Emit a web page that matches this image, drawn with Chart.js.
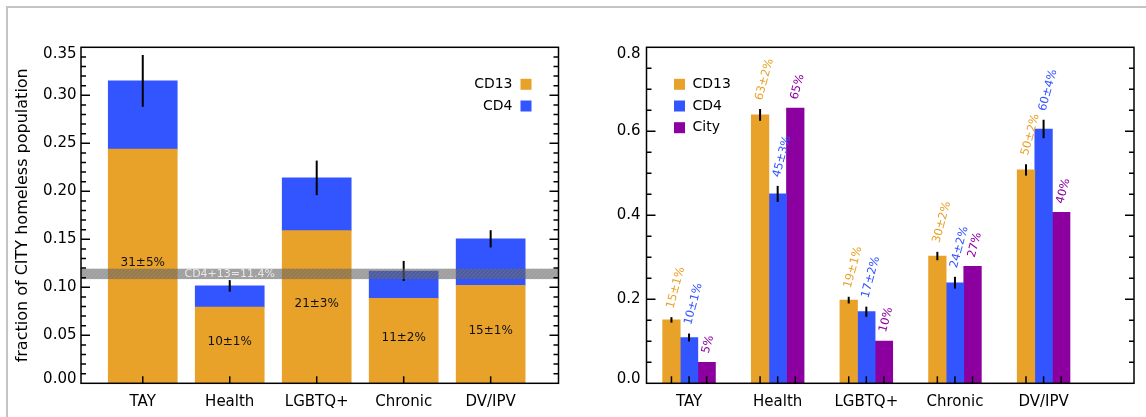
<!DOCTYPE html>
<html>
<head>
<meta charset="utf-8">
<script src="https://cdn.jsdelivr.net/npm/chart.js@4.4.1/dist/chart.umd.min.js"></script>
<style>
  html, body { margin: 0; padding: 0; background: #fff; }
  #wrap { position: relative; width: 1146px; height: 417px; overflow: hidden; }
  #frame { position: absolute; left: 6px; top: 6px; right: -4px; bottom: -4px; border-left: 2px solid #c4c4c4; border-top: 2px solid #c4c4c4; }
  canvas { position: absolute; top: 0; }
  #left { left: 0; }
  #right { left: 573px; }
</style>
</head>
<body>
<div id="wrap">
  <div id="frame"></div>
  <canvas id="left" width="573" height="417"></canvas>
  <canvas id="right" width="573" height="417"></canvas>
</div>
<script>
const categories = ['TAY', 'Health', 'LGBTQ+', 'Chronic', 'DV/IPV']

// left panel: share of the CITY homeless population
const cd13Share = [0.244, 0.0795, 0.159, 0.0885, 0.102]
const cd4Share = [0.071, 0.022, 0.055, 0.0285, 0.0485]
const totalErr = [0.027, 0.006, 0.018, 0.0105, 0.009]
const totalLabels = ['31±5%', '10±1%', '21±3%', '11±2%', '15±1%']
const combinedShare = 0.114
const combinedErr = 0.0057
const combinedLabel = 'CD4+13=11.4%'

// right panel: fraction within each population
const cd13Frac = [0.151, 0.639, 0.198, 0.303, 0.508]
const cd13Err = [0.0065, 0.014, 0.008, 0.01, 0.0135]
const cd13Labels = ['15±1%', '63±2%', '19±1%', '30±2%', '50±2%']
const cd4Frac = [0.109, 0.451, 0.1705, 0.2395, 0.6055]
const cd4Err = [0.0095, 0.019, 0.012, 0.014, 0.022]
const cd4Labels = ['10±1%', '45±3%', '17±2%', '24±2%', '60±4%']
const cityFrac = [0.05, 0.655, 0.1005, 0.2785, 0.407]
const cityLabels = ['5%', '65%', '10%', '27%', '40%']

const ORANGE = 'rgb(232, 162, 42)'
const BLUE = 'rgb(51, 85, 255)'
const PURPLE = 'rgb(140, 0, 160)'
const FONT = '"DejaVu Sans", sans-serif'

const points = arr => arr.map((v, i) => ({ x: i, y: v }))

// end labels of the y axis sit inside the frame, like the original plot
const tuckEndLabels = {
  id: 'tuckEndLabels',
  beforeDraw (chart) {
    const items = chart.scales.y.getLabelItems()
    if (!items.length || items.tucked) return
    items[0].options.translation[1] -= 4.5
    items[items.length - 1].options.translation[1] += 7
    items.tucked = true
  }
}

function drawFrame (chart, minorStep, majorStep, tickXs) {
  const { ctx, chartArea: a, scales: { y } } = chart
  ctx.save()
  ctx.strokeStyle = '#000'
  ctx.lineWidth = 1.5
  ctx.strokeRect(a.left, a.top, a.right - a.left, a.bottom - a.top)
  const n = Math.round((y.max - y.min) / minorStep)
  const every = Math.round(majorStep / minorStep)
  for (let k = 1; k < n; k++) {
    const py = y.getPixelForValue(y.min + k * minorStep)
    const len = k % every === 0 ? 9 : 5
    ctx.beginPath()
    ctx.moveTo(a.left, py); ctx.lineTo(a.left + len, py)
    ctx.moveTo(a.right, py); ctx.lineTo(a.right - len, py)
    ctx.stroke()
  }
  tickXs.forEach(px => {
    ctx.beginPath()
    ctx.moveTo(px, a.bottom); ctx.lineTo(px, a.bottom - 7)
    ctx.stroke()
  })
  ctx.restore()
}

function errorBar (ctx, yScale, px, value, err) {
  ctx.beginPath()
  ctx.moveTo(px, yScale.getPixelForValue(value - err))
  ctx.lineTo(px, yScale.getPixelForValue(value + err))
  ctx.stroke()
}

const leftDecor = {
  id: 'leftDecor',
  afterDatasetsDraw (chart) {
    const { ctx, chartArea: a, scales: { x, y } } = chart
    const bars = chart.getDatasetMeta(0).data

    ctx.save()
    ctx.strokeStyle = '#000'
    ctx.lineWidth = 2
    bars.forEach((b, i) => errorBar(ctx, y, b.x, cd13Share[i] + cd4Share[i], totalErr[i]))

    ctx.fillStyle = '#111'
    ctx.font = '12px ' + FONT
    ctx.textAlign = 'center'
    ctx.textBaseline = 'alphabetic'
    bars.forEach((b, i) => ctx.fillText(totalLabels[i], b.x, y.getPixelForValue(cd13Share[i] / 2)))

    // combined CD4+CD13 band
    const y1 = y.getPixelForValue(combinedShare + combinedErr)
    const y2 = y.getPixelForValue(combinedShare - combinedErr)
    ctx.beginPath()
    ctx.rect(a.left, y1, a.right - a.left, y2 - y1)
    ctx.clip()
    ctx.fillStyle = 'rgba(95, 95, 95, 0.6)'
    ctx.fillRect(a.left, y1, a.right - a.left, y2 - y1)
    ctx.strokeStyle = 'rgba(255, 255, 255, 0.12)'
    ctx.lineWidth = 1
    for (let sx = a.left - 20; sx < a.right + 20; sx += 4) {
      ctx.beginPath()
      ctx.moveTo(sx, y2); ctx.lineTo(sx + (y2 - y1), y1)
      ctx.stroke()
    }
    ctx.fillStyle = 'rgba(235, 235, 235, 0.95)'
    ctx.font = '11px ' + FONT
    ctx.textBaseline = 'middle'
    ctx.fillText(combinedLabel, x.getPixelForValue(1), (y1 + y2) / 2)
    ctx.restore()

    // legend, text left of the box
    ctx.save()
    ctx.font = '14px ' + FONT
    ctx.textAlign = 'right'
    ctx.textBaseline = 'middle'
    chart.data.datasets.forEach((ds, i) => {
      const cy = a.top + 37 + i * 21.7
      ctx.fillStyle = ds.backgroundColor
      ctx.fillRect(a.right - 38, cy - 5.5, 11, 11)
      ctx.fillStyle = '#000'
      ctx.fillText(ds.label, a.right - 46, cy)
    })
    ctx.restore()

    drawFrame(chart, 0.01, 0.05, bars.map(b => b.x))
  }
}

const rightDecor = {
  id: 'rightDecor',
  afterDatasetsDraw (chart) {
    const { ctx, chartArea: a, scales: { y } } = chart
    const series = [
      { vals: cd13Frac, errs: cd13Err, labels: cd13Labels },
      { vals: cd4Frac, errs: cd4Err, labels: cd4Labels },
      { vals: cityFrac, errs: null, labels: cityLabels }
    ]
    const tickXs = []
    ctx.save()
    series.forEach((s, d) => {
      const bars = chart.getDatasetMeta(d).data
      const color = chart.data.datasets[d].backgroundColor
      bars.forEach((b, i) => {
        tickXs.push(b.x)
        const err = s.errs ? s.errs[i] : 0
        if (s.errs) {
          ctx.strokeStyle = '#000'
          ctx.lineWidth = 2
          errorBar(ctx, y, b.x, s.vals[i], err)
        }
        ctx.save()
        ctx.translate(b.x - 1, y.getPixelForValue(s.vals[i] + err) - 9)
        ctx.rotate(-75 * Math.PI / 180)
        ctx.fillStyle = color
        ctx.font = '11.5px ' + FONT
        ctx.textAlign = 'left'
        ctx.textBaseline = 'middle'
        ctx.fillText(s.labels[i], 0, 0)
        ctx.restore()
      })
    })
    ctx.restore()

    ctx.save()
    ctx.font = '14px ' + FONT
    ctx.textAlign = 'left'
    ctx.textBaseline = 'middle'
    chart.data.datasets.forEach((ds, i) => {
      const cy = a.top + 37 + i * 21.7
      ctx.fillStyle = ds.backgroundColor
      ctx.fillRect(a.left + 27.5, cy - 5.5, 11, 11)
      ctx.fillStyle = '#000'
      ctx.fillText(ds.label, a.left + 46, cy)
    })
    ctx.restore()

    drawFrame(chart, 0.05, 0.2, tickXs)
  }
}

function xAxis (min, max) {
  return {
    type: 'linear',
    min,
    max,
    offset: false,
    grid: { display: false, drawTicks: false, offset: false },
    border: { display: false },
    afterBuildTicks: s => { s.ticks = categories.map((c, i) => ({ value: i })) },
    afterFit: s => { s.height = 33.7 },
    ticks: {
      autoSkip: false,
      maxRotation: 0,
      padding: 10,
      color: '#000',
      font: { family: FONT, size: 15 },
      callback: v => categories[v]
    }
  }
}

new Chart(document.getElementById('left').getContext('2d'), {
  type: 'bar',
  data: {
    datasets: [
      { label: 'CD13', data: points(cd13Share), backgroundColor: ORANGE },
      { label: 'CD4', data: points(cd4Share), backgroundColor: BLUE }
    ]
  },
  options: {
    responsive: false,
    animation: false,
    devicePixelRatio: 1,
    barThickness: 69,
    layout: { padding: { top: 47.3, right: 14.5, left: 0, bottom: 0 } },
    scales: {
      x: Object.assign(xAxis(-0.71, 4.78), { stacked: true }),
      y: {
        stacked: true,
        min: 0,
        max: 0.35,
        grid: { display: false, drawTicks: false },
        border: { display: false },
        afterFit: s => { s.width = 81 },
        ticks: {
          stepSize: 0.05,
          padding: 4.5,
          color: '#000',
          font: { family: FONT, size: 15 },
          callback: v => v.toFixed(2)
        },
        title: {
          display: true,
          text: 'fraction of CITY homeless population',
          color: '#000',
          font: { family: FONT, size: 16 },
          padding: { top: 13.4, bottom: 0 }
        }
      }
    },
    plugins: { legend: { display: false }, tooltip: { enabled: false } }
  },
  plugins: [tuckEndLabels, leftDecor]
})

new Chart(document.getElementById('right').getContext('2d'), {
  type: 'bar',
  data: {
    datasets: [
      { label: 'CD13', data: points(cd13Frac), backgroundColor: ORANGE },
      { label: 'CD4', data: points(cd4Frac), backgroundColor: BLUE },
      { label: 'City', data: points(cityFrac), backgroundColor: PURPLE }
    ]
  },
  options: {
    responsive: false,
    animation: false,
    devicePixelRatio: 1,
    barThickness: 17.6,
    layout: { padding: { top: 47.3, right: 12, left: 0, bottom: 0 } },
    scales: {
      x: xAxis(-0.48, 5.02),
      y: {
        min: 0,
        max: 0.8,
        grid: { display: false, drawTicks: false },
        border: { display: false },
        afterFit: s => { s.width = 73.5 },
        ticks: {
          stepSize: 0.2,
          padding: 6,
          color: '#000',
          font: { family: FONT, size: 15 },
          callback: v => v.toFixed(1)
        }
      }
    },
    plugins: { legend: { display: false }, tooltip: { enabled: false } }
  },
  plugins: [tuckEndLabels, rightDecor]
})
</script>
</body>
</html>
